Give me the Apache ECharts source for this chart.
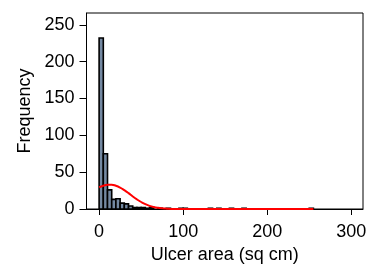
<!DOCTYPE html>
<html>
<head>
<meta charset="utf-8">
<script src="https://cdn.jsdelivr.net/npm/echarts@6/dist/echarts.min.js"></script>
<style>html,body{margin:0;padding:0;background:#fff}#c{width:377px;height:276px}</style>
</head>
<body>
<div id="c"></div>
<script>
// Histogram bins (lower edge, sq cm), bin width 5
var binStarts = [0,5,10,15,20,25,30,35,40,45,50,55,60,70,80,95,100,130,140,155,170,250];
var binCounts = [232,75,26,13,14,8,7,4,2,2,2,1,2,1,1,1,1,1,1,1,1,1];
var binWidth = 5;
// Fitted normal curve
var curveX = [0,5,10,15,20,25,30,35,40,45,50,55,60,65,70,75,80,90,100,150,200,255];
var curveY = [29.5,31.5,33,33,31.5,29,25.5,21.5,17,13,9.5,6.5,4.3,2.7,1.6,0.9,0.5,0.1,0,0,0,0];
var xTicks = [0,100,200,300];
var yTicks = [0,50,100,150,200,250];

var histData = binStarts.map(function(s,i){return [s, s+binWidth, binCounts[i]];});
var curveData = curveX.map(function(x,i){return [x, curveY[i]];});

var font = 'Liberation Sans, Arial, sans-serif';
var chart = echarts.init(document.getElementById('c'), null, {renderer:'canvas'});
chart.setOption({
  animation:false,
  backgroundColor:'#fff',
  grid:{left:86.5, right:14, top:13, bottom:67, show:true, borderColor:'#000', borderWidth:1},
  xAxis:{
    type:'value', min:-15, max:314,
    name:'Ulcer area (sq cm)', nameLocation:'middle', nameGap:27,
    nameTextStyle:{fontFamily:font, fontSize:18, color:'#000'},
    axisLine:{show:true, onZero:false, lineStyle:{color:'#000', width:1}},
    axisTick:{show:true, inside:false, length:6, customValues:xTicks, lineStyle:{color:'#000'}},
    axisLabel:{customValues:xTicks, margin:14, fontFamily:font, fontSize:18, color:'#000'},
    splitLine:{show:false}
  },
  yAxis:{
    type:'value', min:0, max:266,
    name:'Frequency', nameLocation:'middle', nameGap:52, nameRotate:90,
    nameTextStyle:{fontFamily:font, fontSize:18, color:'#000'},
    axisLine:{show:true, onZero:false, lineStyle:{color:'#000', width:1}},
    axisTick:{show:true, length:7, customValues:yTicks, lineStyle:{color:'#000'}},
    axisLabel:{customValues:yTicks, margin:12, fontFamily:font, fontSize:18, color:'#000'},
    splitLine:{show:false}
  },
  series:[
    {
      type:'custom',
      data:histData,
      encode:{x:[0,1], y:2},
      renderItem:function(params, api){
        var p0 = api.coord([api.value(0), 0]);
        var p1 = api.coord([api.value(1), api.value(2)]);
        return {
          type:'rect',
          shape:{x:p0[0], y:p1[1], width:p1[0]-p0[0], height:p0[1]-p1[1]},
          style:{fill:'#7489a2', stroke:'#000', lineWidth:1.6}
        };
      },
      z:2
    },
    {
      type:'line',
      data:curveData,
      smooth:true,
      showSymbol:false,
      lineStyle:{color:'#ff0000', width:2},
      z:3
    }
  ]
});
</script>
</body>
</html>
